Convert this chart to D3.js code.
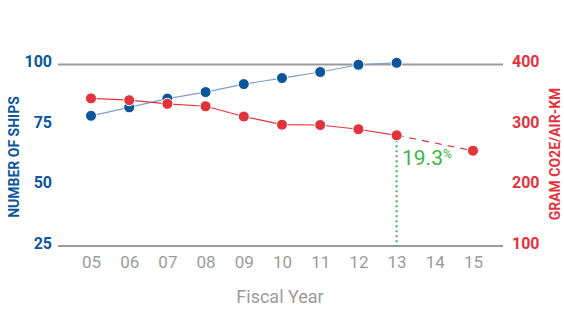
<!DOCTYPE html>
<html>
<head>
<meta charset="utf-8">
<title>Ships and CO2</title>
<script src="https://d3js.org/d3.v7.min.js"></script>
<style>
  body { margin: 0; background: #fff; }
  text { font-family: "Liberation Sans Narrow", "Roboto", sans-serif; }
</style>
</head>
<body>
<div id="chart"></div>
<script>
const width = 564, height = 309;

// data
const years = ["05", "06", "07", "08", "09", "10", "11", "12", "13", "14", "15"];
const ships = [78.8, 82.3, 85.9, 88.6, 91.9, 94.4, 96.9, 99.9, 100.7];
const co2 = [344, 341, 335, 331, 314, 300.5, 300, 293, 283];
const co2Target = [["13", 283], ["15", 257.5]];
const shipTicks = [25, 50, 75, 100];
const co2Ticks = [100, 200, 300, 400];
const reduction = "19.3";

const blue = "#0b569b", blueLine = "#7f9fcb";
const red = "#e2333d";
const green = "#3bb54a";
const grey = "#9b9b9b";

const x = d3.scalePoint().domain(years).range([91, 473]);
const yL = d3.scaleLinear().domain([25, 100]).range([246, 64.5]);
const yR = d3.scaleLinear().domain([100, 400]).range([246, 64.5]);

const svg = d3.select("#chart").append("svg")
    .attr("width", width)
    .attr("height", height);

// horizontal frame lines
svg.selectAll(".hline")
  .data([25, 100])
  .enter().append("line")
    .attr("x1", 58).attr("x2", 503)
    .attr("y1", d => yL(d)).attr("y2", d => yL(d))
    .attr("stroke", grey)
    .attr("stroke-width", 2);

// left axis
const axL = svg.append("g")
    .attr("transform", "translate(52,-3)")
    .call(d3.axisLeft(yL).tickValues(shipTicks).tickSize(0).tickPadding(0));
axL.select(".domain").remove();
axL.selectAll("text")
    .attr("fill", blue)
    .style("font-size", "16px")
    .style("font-weight", "bold");

// right axis
const axR = svg.append("g")
    .attr("transform", "translate(512,-3)")
    .call(d3.axisRight(yR).tickValues(co2Ticks).tickSize(0).tickPadding(0));
axR.select(".domain").remove();
axR.selectAll("text")
    .attr("fill", red)
    .style("font-size", "16px")
    .style("font-weight", "bold");

// bottom axis
const axB = svg.append("g")
    .attr("transform", "translate(0,256)")
    .call(d3.axisBottom(x).tickSize(0).tickPadding(0));
axB.select(".domain").remove();
axB.selectAll("text")
    .attr("fill", grey)
    .attr("dy", "0.71em")
    .style("font-size", "17px");

svg.append("text")
    .attr("x", 280).attr("y", 303)
    .attr("text-anchor", "middle")
    .attr("fill", grey)
    .style("font-size", "18px")
    .text("Fiscal Year");

svg.append("text")
    .attr("transform", "translate(19,157) rotate(-90)")
    .attr("text-anchor", "middle")
    .attr("fill", blue)
    .style("font-size", "14px")
    .style("font-weight", "bold")
    .text("NUMBER OF SHIPS");

svg.append("text")
    .attr("transform", "translate(560,154) rotate(-90)")
    .attr("text-anchor", "middle")
    .attr("fill", red)
    .style("font-size", "14px")
    .style("font-weight", "bold")
    .text("GRAM CO2E/AIR-KM");

// green marker
svg.append("line")
    .attr("x1", x("13")).attr("x2", x("13"))
    .attr("y1", yR(283)).attr("y2", yL(25))
    .attr("stroke", green)
    .attr("stroke-width", 2)
    .attr("stroke-dasharray", "2,3");

const g = svg.append("text")
    .attr("x", 402).attr("y", 165)
    .attr("fill", green)
    .style("font-size", "21px");
g.append("tspan").text(reduction);
g.append("tspan").attr("dy", -7).style("font-size", "12px").text("%");

// ships line
const lineL = d3.line().x((d, i) => x(years[i])).y(d => yL(d));
svg.append("path")
    .datum(ships)
    .attr("d", lineL)
    .attr("fill", "none")
    .attr("stroke", blueLine)
    .attr("stroke-width", 1.2);

// co2 line
const lineR = d3.line().x((d, i) => x(years[i])).y(d => yR(d));
svg.append("path")
    .datum(co2)
    .attr("d", lineR)
    .attr("fill", "none")
    .attr("stroke", red)
    .attr("stroke-width", 1.2);

svg.append("path")
    .datum(co2Target)
    .attr("d", d3.line().x(d => x(d[0])).y(d => yR(d[1])))
    .attr("fill", "none")
    .attr("stroke", red)
    .attr("stroke-width", 1.2)
    .attr("stroke-dasharray", "7,6");

svg.selectAll(".dotL")
  .data(ships)
  .enter().append("circle")
    .attr("cx", (d, i) => x(years[i]))
    .attr("cy", d => yL(d))
    .attr("r", 5.5)
    .attr("fill", blue)
    .attr("stroke", "#fff")
    .attr("stroke-width", 1);

svg.selectAll(".dotR")
  .data(co2.map((d, i) => [years[i], d]).concat([co2Target[1]]))
  .enter().append("circle")
    .attr("cx", d => x(d[0]))
    .attr("cy", d => yR(d[1]))
    .attr("r", 5.5)
    .attr("fill", red)
    .attr("stroke", "#fff")
    .attr("stroke-width", 1);
</script>
</body>
</html>
